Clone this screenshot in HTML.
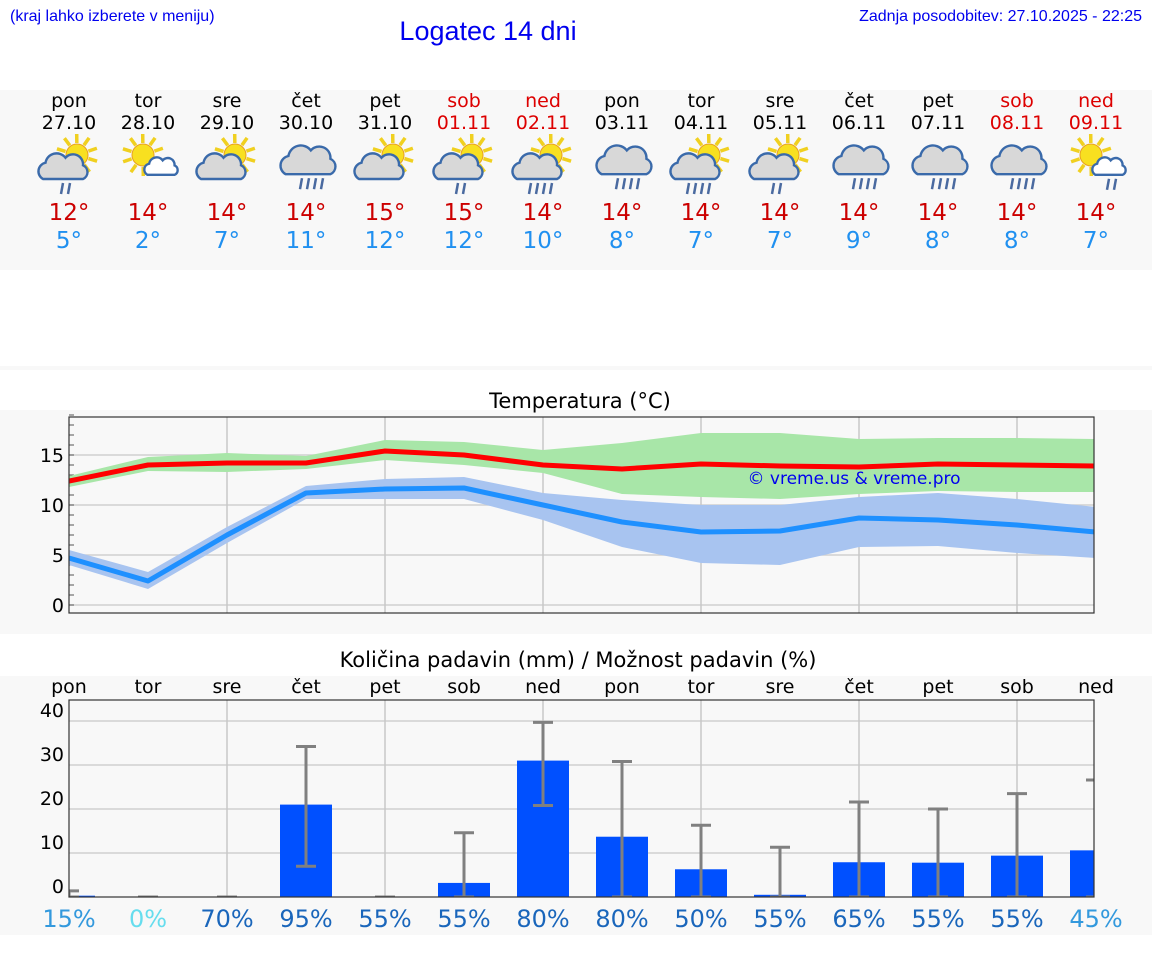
<!DOCTYPE html>
<html><head><meta charset="utf-8"><style>
html,body{margin:0;padding:0;background:#fff;}
svg{display:block;font-family:"DejaVu Sans","Liberation Sans",sans-serif;}
</style></head><body>
<svg id="c" width="1152" height="975" viewBox="0 0 1152 975" xmlns="http://www.w3.org/2000/svg">
<rect x="0" y="90" width="1152" height="180" fill="#f8f8f8"/>
<rect x="0" y="366" width="1152" height="4" fill="#f8f8f8"/>
<rect x="0" y="410" width="1152" height="224" fill="#f8f8f8"/>
<rect x="0" y="676" width="1152" height="259" fill="#f8f8f8"/>
<text x="10" y="21" font-family="Liberation Sans, sans-serif" font-size="16" fill="#0000ee">(kraj lahko izberete v meniju)</text>
<text x="488" y="40" text-anchor="middle" font-family="Liberation Sans, sans-serif" font-size="27" fill="#0000ee">Logatec 14 dni</text>
<text x="1142" y="21" text-anchor="end" font-family="Liberation Sans, sans-serif" font-size="16" fill="#0000ee">Zadnja posodobitev: 27.10.2025 - 22:25</text>
<text x="580" y="408" text-anchor="middle" font-size="21" fill="#000">Temperatura (°C)</text>
<text x="578" y="667" text-anchor="middle" font-size="21" fill="#000">Količina padavin (mm) / Možnost padavin (%)</text>
<g id="g"></g>
</svg>
<script>
const days=["pon","tor","sre","čet","pet","sob","ned","pon","tor","sre","čet","pet","sob","ned"];
const dates=["27.10","28.10","29.10","30.10","31.10","01.11","02.11","03.11","04.11","05.11","06.11","07.11","08.11","09.11"];
const weekend=[0,0,0,0,0,1,1,0,0,0,0,0,1,1];
const iconSun=[1,1,1,0,1,1,1,0,1,1,0,0,0,1];
const iconRain=[2,0,0,4,0,2,4,4,4,2,4,4,4,2];
const tMaxDay=[12,14,14,14,15,15,14,14,14,14,14,14,14,14];
const tMinDay=[5,2,7,11,12,12,10,8,7,7,9,8,8,7];
const tMax=[12.4,14,14.2,14.2,15.4,15,14,13.6,14.1,13.9,13.8,14.1,14,13.9];
const tMaxHi=[12.9,14.8,15.2,14.9,16.5,16.3,15.5,16.2,17.2,17.2,16.6,16.7,16.7,16.6];
const tMaxLo=[11.8,13.4,13.3,13.6,14.5,14,13.2,11.1,10.8,10.6,11.1,11.4,11.3,11.3];
const tMin=[4.7,2.4,7,11.2,11.6,11.7,10,8.3,7.3,7.4,8.7,8.5,8,7.3];
const tMinHi=[5.5,3.3,7.8,11.9,12.6,12.8,11.2,10.5,10,10,10.8,11.2,10.6,9.8];
const tMinLo=[4,1.6,6.2,10.6,10.6,10.6,8.5,5.8,4.2,4,5.8,5.9,5.2,4.7];
const tTicks=[0,5,10,15];
const rain=[0.3,0,0,21,0,3.2,31,13.7,6.3,0.5,7.9,7.8,9.4,10.6];
const rainLo=[0,0,0,7,0,0,20.8,0,0,0,0,0,0,0];
const rainHi=[1.4,0,0,34.2,0,14.6,39.7,30.8,16.3,11.3,21.6,20,23.5,26.6];
const prob=[15,0,70,95,55,55,80,80,50,55,65,55,55,45];
const rTicks=[0,10,20,30,40];

const NS="http://www.w3.org/2000/svg",G=document.getElementById('g');
function el(t,a,p){const e=document.createElementNS(NS,t);for(const k in a)e.setAttribute(k,a[k]);(p||G).appendChild(e);return e;}
const colX=i=>69+79*i;
const yT=v=>605-v*10;
const yR=v=>897-v*4.4;

// daily header
for(let i=0;i<14;i++){
  const x=colX(i),c=weekend[i]?"#dd0000":"#000";
  let e=el('text',{x:x,y:107,'text-anchor':'middle','font-size':19,fill:c});e.textContent=days[i];
  
  
  e=el('text',{x:x,y:129,'text-anchor':'middle','font-size':19,fill:c});e.textContent=dates[i];
  
  
  const ig=el('g',{});
  
  
  const cy=165;
  const white=(i===1||i===13);
  if(iconSun[i]){
    const sx=white?x-5:x+8, sy=white?cy-10:cy-10;
    for(let k=0;k<10;k++){const a=k*Math.PI/5+0.3;el('line',{x1:sx+Math.cos(a)*12,y1:sy+Math.sin(a)*12,x2:sx+Math.cos(a)*21,y2:sy+Math.sin(a)*21,stroke:'#f0d020','stroke-width':3.5},ig);}
    el('circle',{cx:sx,cy:sy,r:11,fill:'#f8e020',stroke:'#e8a020','stroke-width':1},ig);
  }
  const big=!iconSun[i];
  const ccx=big?x+2:(white?x+13:x-6), ccy=big?cy-2:(white?cy+3:cy+4), s=big?1.4:(white?0.85:1.25);
  const cf=white?'#fff':'#d8d8d8';
  const p=`M${ccx-16*s},${ccy+8*s} a${7*s},${7*s} 0 0 1 ${2*s},${-13*s} a${9*s},${9*s} 0 0 1 ${16*s},${-4*s} a${8*s},${8*s} 0 0 1 ${14*s},${6*s} a${6*s},${6*s} 0 0 1 ${0},${11*s} Z`;
  el('path',{d:p,fill:cf,stroke:'#3a6aaa','stroke-width':2.4},ig);
  const n=iconRain[i];
  const ry=ccy+8*s+4;
  for(let k=0;k<n;k++){const rx=ccx-8+k*7+(n===2?6:0);el('line',{x1:rx+2,y1:ry,x2:rx,y2:ry+11,stroke:'#4a6aa0','stroke-width':2.5},ig);}
  e=el('text',{x:x,y:220,'text-anchor':'middle','font-size':23,fill:'#cc0000'});e.textContent=tMaxDay[i]+"°";
  
  
  e=el('text',{x:x,y:248,'text-anchor':'middle','font-size':23,fill:'#2090f0'});e.textContent=tMinDay[i]+"°";
  
  
}

// temperature chart
let r=el('rect',{x:69,y:417,width:1025,height:196,fill:'#f8f8f8',stroke:'none'});


for(const t of tTicks){
  let l=el('line',{x1:69,x2:1094,y1:yT(t),y2:yT(t),stroke:'#d0d0d0','stroke-width':1.5});
  
  
  let e=el('text',{x:64,y:yT(t)+7,'text-anchor':'end','font-size':19,fill:'#000'});e.textContent=t;
  
  
}
for(let v=0;v<=19;v++){el('line',{x1:69,x2:74,y1:yT(v),y2:yT(v),stroke:'#555','stroke-width':1});}
for(let i=2;i<14;i+=2){el('line',{x1:colX(i),x2:colX(i),y1:417,y2:613,stroke:'#c8c8c8','stroke-width':1.5});}
const cp=el('clipPath',{id:'tc'},document.getElementById('c'));
el('rect',{x:69,y:417,width:1025,height:196},cp);
const TG=el('g',{'clip-path':'url(#tc)'});
const line=(vals,col,name,parent)=>{
  const p=el('polyline',{points:vals.map((v,i)=>colX(i)+','+yT(v)).join(' '),fill:'none',stroke:col,'stroke-width':5,'stroke-linejoin':'round'},parent);
  
  
};
{
  let d='M'+tMaxHi.map((v,i)=>colX(i)+','+yT(v)).join(' L')+' L'+tMaxLo.map((v,i)=>colX(i)+','+yT(v)).reverse().join(' L')+' Z';
  let p=el('path',{d:d,fill:'#a8e6a8'},TG);
  
  
  d='M'+tMinHi.map((v,i)=>colX(i)+','+yT(v)).join(' L')+' L'+tMinLo.map((v,i)=>colX(i)+','+yT(v)).reverse().join(' L')+' Z';
  p=el('path',{d:d,fill:'#a8c4f0'},TG);
  
  
  line(tMax,'#ff0000','max-temp-line',TG);
  line(tMin,'#1e90ff','min-temp-line',TG);
}
let wm=el('text',{x:854,y:484,'text-anchor':'middle','font-size':17,fill:'#0000ee'});wm.textContent='© vreme.us & vreme.pro';


r=el('rect',{x:69,y:417,width:1025,height:196,fill:'none',stroke:'#333','stroke-width':1.2});



// precipitation chart
r=el('rect',{x:69,y:700,width:1025,height:197,fill:'#f8f8f8'});


for(const t of rTicks){
  if(t>0){let l=el('line',{x1:69,x2:1094,y1:yR(t),y2:yR(t),stroke:'#d0d0d0','stroke-width':1.5});
  
  }
  let e=el('text',{x:64,y:yR(t)-4,'text-anchor':'end','font-size':19,fill:'#000'});e.textContent=t;
  
  
}
for(let i=2;i<14;i+=2){el('line',{x1:colX(i),x2:colX(i),y1:700,y2:897,stroke:'#c8c8c8','stroke-width':1.5});}
const cp2=el('clipPath',{id:'pc'},document.getElementById('c'));
el('rect',{x:69,y:700,width:1025,height:197},cp2);
const PG=el('g',{'clip-path':'url(#pc)'});
for(let i=0;i<14;i++){
  const x=colX(i);
  let e=el('text',{x:x,y:693,'text-anchor':'middle','font-size':19,fill:'#000'});e.textContent=days[i];
  
  
  const b=el('rect',{x:x-26,y:yR(rain[i]),width:52,height:897-yR(rain[i]),fill:'#0050ff'},PG);
  
  
  const eb=el('g',{},PG);
  
  
  el('line',{x1:x,x2:x,y1:yR(rainLo[i]),y2:yR(rainHi[i]),stroke:'#808080','stroke-width':3},eb);
  el('line',{x1:x-10,x2:x+10,y1:yR(rainHi[i]),y2:yR(rainHi[i]),stroke:'#808080','stroke-width':3},eb);
  el('line',{x1:x-10,x2:x+10,y1:yR(rainLo[i]),y2:yR(rainLo[i]),stroke:'#808080','stroke-width':3},eb);
  const pc=prob[i]===0?'#66ddee':(prob[i]<50?'#3399dd':'#1a66bb');
  e=el('text',{x:x,y:927,'text-anchor':'middle','font-size':24,fill:pc});e.textContent=prob[i]+'%';
  
  
}
r=el('rect',{x:69,y:700,width:1025,height:197,fill:'none',stroke:'#333','stroke-width':1.2});


</script>
</body></html>
